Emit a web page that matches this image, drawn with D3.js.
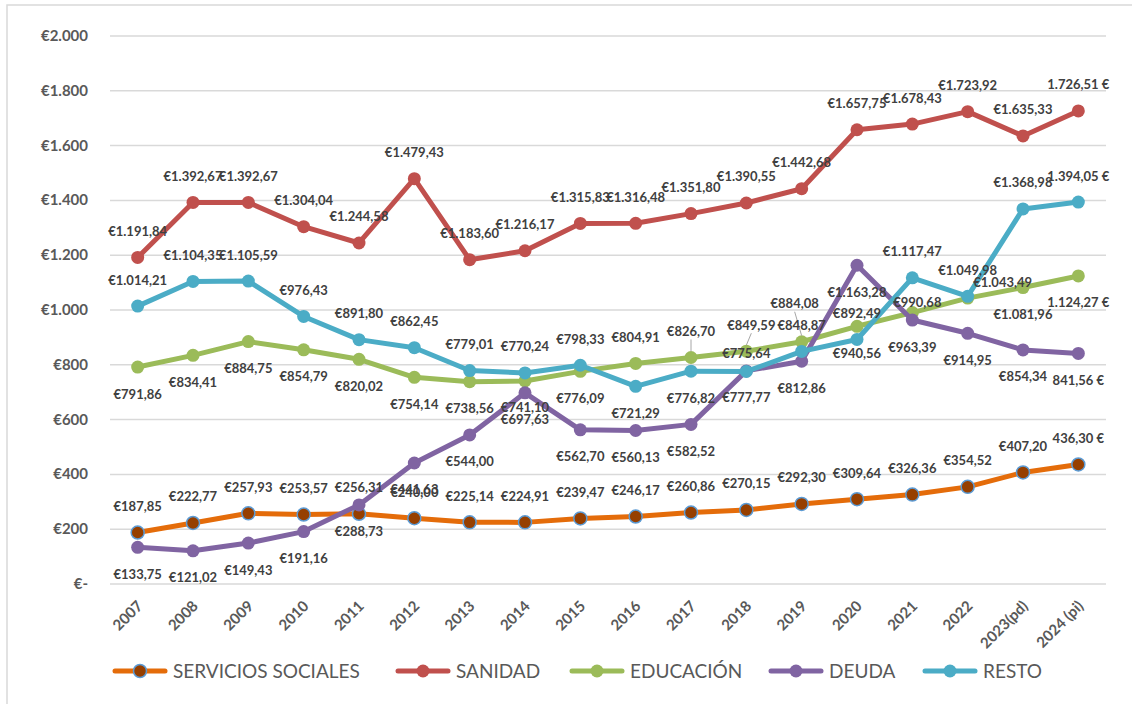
<!DOCTYPE html>
<html>
<head>
    <meta charset="utf-8">
    <title>gasto por habitante</title>
    <script type="text/javascript" src="https://d3js.org/d3.v7.min.js"></script>
    <style>
      body { margin: 0; background: #fff; }
      text { font-family: Lato, "Open Sans", sans-serif; }
    </style>
</head>
<body>
<script type="text/javascript">
    // categories and series
    var years = ["2007","2008","2009","2010","2011","2012","2013","2014","2015","2016","2017","2018","2019","2020","2021","2022","2023(pd)","2024 (pi)"]

    var serviciosSociales = [187.85,222.77,257.93,253.57,256.31,240.00,225.14,224.91,239.47,246.17,260.86,270.15,292.30,309.64,326.36,354.52,407.20,436.30]
    var sanidad = [1191.84,1392.67,1392.67,1304.04,1244.58,1479.43,1183.60,1216.17,1315.83,1316.48,1351.80,1390.55,1442.68,1657.75,1678.43,1723.92,1635.33,1726.51]
    var educacion = [791.86,834.41,884.75,854.79,820.02,754.14,738.56,741.10,776.09,804.91,826.70,849.59,884.08,940.56,990.68,1043.49,1081.96,1124.27]
    var deuda = [133.75,121.02,149.43,191.16,288.73,441.63,544.00,697.63,562.70,560.13,582.52,777.77,812.86,1163.28,963.39,914.95,854.34,841.56]
    var resto = [1014.21,1104.35,1105.59,976.43,891.80,862.45,779.01,770.24,798.33,721.29,776.82,775.64,848.87,892.49,1117.47,1049.98,1368.98,1394.05]

    var yTicks = [0,200,400,600,800,1000,1200,1400,1600,1800,2000]

    // label placement: default side, indices on the other side, hand nudges [dx,dy]
    var series = [
        {name:"SERVICIOS SOCIALES", values:serviciosSociales, color:"#E46C0A", marker:"#963F00", markerStroke:"#5B9BD5", pos:"above", flip:[], nudge:{}},
        {name:"SANIDAD", values:sanidad, color:"#C0504D", pos:"above", flip:[], nudge:{}},
        {name:"EDUCACIÓN", values:educacion, color:"#9BBB59", pos:"below", flip:[9,10,11,12,14,15],
            nudge:{11:[5,0], 12:[-7,-12], 14:[5,16], 15:[35,10]}, leader:[10,11,12]},
        {name:"DEUDA", values:deuda, color:"#8064A2", pos:"below", flip:[], nudge:{}},
        {name:"RESTO", values:resto, color:"#4BACC6", pos:"above", flip:[9,10], nudge:{11:[0,8]}}
    ]

    var width = 1132, height = 704
    var svg = d3.select("body").append("svg")
        .attr("width", width).attr("height", height)

    // chart border (only left / top visible in the reference)
    svg.append("rect").attr("x",7).attr("y",5).attr("width",1140).attr("height",720)
        .attr("fill","none").attr("stroke","#d9d9d9").attr("stroke-width",1.5)

    var x = d3.scalePoint().domain(years).range([110,1106]).padding(0.5)
    var y = d3.scaleLinear().domain([0,2000]).range([584,36])

    var es = d3.formatLocale({decimal:",", thousands:".", grouping:[3], currency:["€",""]})
    var num = es.format(",.2f")
    var tickFmt = es.format(",.0f")

    // grid
    svg.append("g").selectAll("line").data(yTicks).join("line")
        .attr("x1",110).attr("x2",1106)
        .attr("y1",d => y(d)).attr("y2",d => y(d))
        .attr("stroke","#d9d9d9").attr("stroke-width",1.5)

    // y labels
    svg.append("g").selectAll("text").data(yTicks).join("text")
        .attr("x",88).attr("y",d => y(d)+5)
        .attr("text-anchor","end")
        .attr("font-size",15).attr("font-weight","bold").attr("fill","#595959")
        .text(d => d == 0 ? "€-" : "€" + tickFmt(d))

    // x labels
    svg.append("g").selectAll("text").data(years).join("text")
        .attr("transform",d => "translate(" + (x(d)+6) + ",607) rotate(-45)")
        .attr("text-anchor","end")
        .attr("font-size",15).attr("font-weight","bold").attr("fill","#595959")
        .text(d => d)

    var line = d3.line().x((d,i) => x(years[i])).y(d => y(d))

    series.forEach(function(s){
        var g = svg.append("g")
        g.append("path").attr("d",line(s.values))
            .attr("fill","none").attr("stroke",s.color).attr("stroke-width",5)
            .attr("stroke-linejoin","round").attr("stroke-linecap","round")
        g.selectAll("circle").data(s.values).join("circle")
            .attr("cx",(d,i) => x(years[i])).attr("cy",d => y(d)).attr("r",6.5)
            .attr("fill",s.marker || s.color)
            .attr("stroke",s.markerStroke || "none").attr("stroke-width",1.5)
    })

    // label centre for point i of series s
    function labelPos(s,d,i){
        var p = s.flip.indexOf(i) >= 0 ? (s.pos == "above" ? "below" : "above") : s.pos
        var n = s.nudge[i] || [0,0]
        var cy = p == "above" ? y(d) - 26 : y(d) + 27
        return [x(years[i]) + n[0], cy + n[1]]
    }

    // leader lines
    series.forEach(function(s){
        if(!s.leader) return
        svg.append("g").selectAll("line").data(s.leader).join("line")
            .attr("x1",i => labelPos(s,s.values[i],i)[0])
            .attr("y1",i => labelPos(s,s.values[i],i)[1] + 8)
            .attr("x2",i => x(years[i]))
            .attr("y2",i => y(s.values[i]) - 6)
            .attr("stroke","#a6a6a6").attr("stroke-width",1)
    })

    // data labels on top
    series.forEach(function(s){
        svg.append("g").selectAll("text").data(s.values).join("text")
            .attr("x",(d,i) => labelPos(s,d,i)[0])
            .attr("y",(d,i) => labelPos(s,d,i)[1] + 4.5)
            .attr("text-anchor","middle")
            .attr("font-size",13).attr("font-weight","bold").attr("fill","#404040")
            .text((d,i) => i == years.length-1 ? num(d) + " €" : "€" + num(d))
    })

    // legend
    var legendX = [115,398,572,771,925]
    var lg = svg.append("g").selectAll("g").data(series).join("g")
        .attr("transform",(d,i) => "translate(" + legendX[i] + ",671)")
    lg.append("line").attr("x1",0).attr("x2",50)
        .attr("stroke",d => d.color).attr("stroke-width",5).attr("stroke-linecap","round")
    lg.append("circle").attr("cx",25).attr("r",6.5)
        .attr("fill",d => d.marker || d.color)
        .attr("stroke",d => d.markerStroke || "none").attr("stroke-width",1.5)
    lg.append("text").attr("x",58).attr("y",7)
        .attr("font-size",19).attr("fill","#595959")
        .text(d => d.name)
</script>
</body>
</html>
